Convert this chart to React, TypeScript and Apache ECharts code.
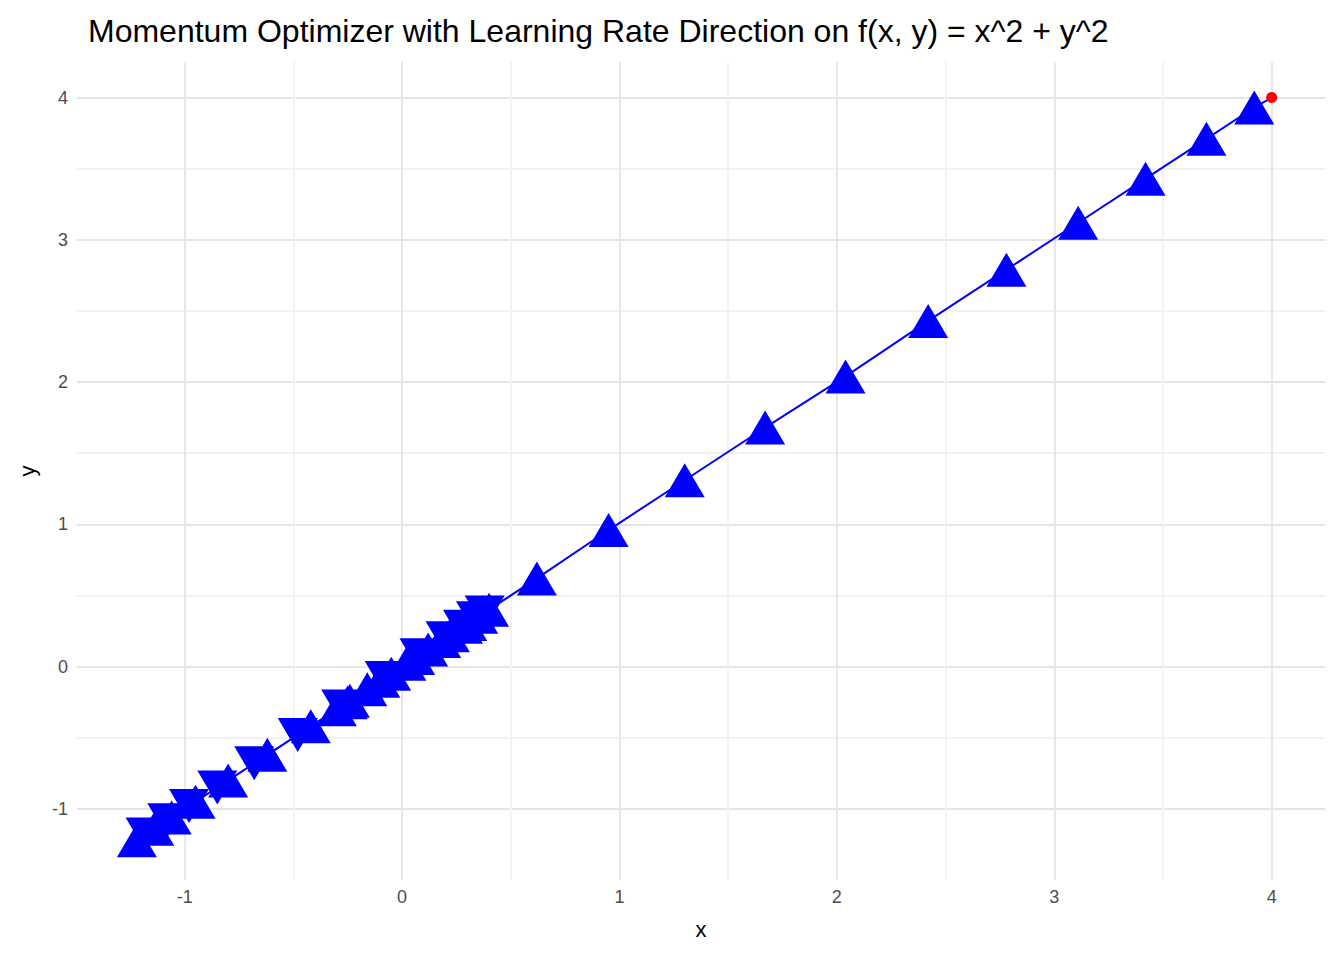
import React, { useEffect, useRef } from 'react';
import * as echarts from 'echarts';

// optimizer path, in step order (x = y along the diagonal)
const pathX = [4, 3.92, 3.70, 3.42, 3.11, 2.78, 2.42, 2.04, 1.67, 1.30, 0.95, 0.62, 0.40, 0.30, 0.22, 0.12, 0.02, -0.10, -0.24, -0.42, -0.62, -0.80, -0.95, -1.06, -1.14, -1.22, -1.18, -1.08, -0.98, -0.85, -0.68, -0.48, -0.28, -0.08, 0.08, 0.20, 0.28, 0.34, 0.38, 0.35, 0.28, 0.18, 0.06, -0.05, -0.16, -0.25, -0.30];
const pathY = [4, 3.93, 3.71, 3.43, 3.12, 2.79, 2.43, 2.04, 1.68, 1.31, 0.96, 0.62, 0.40, 0.30, 0.22, 0.12, 0.02, -0.10, -0.24, -0.42, -0.62, -0.80, -0.95, -1.06, -1.14, -1.22, -1.18, -1.08, -0.98, -0.85, -0.68, -0.48, -0.28, -0.08, 0.08, 0.20, 0.28, 0.34, 0.38, 0.35, 0.28, 0.18, 0.06, -0.05, -0.16, -0.25, -0.30];
const startPoint = [4, 4];
const tickLabels = ['-1', '0', '1', '2', '3', '4'];

const App = () => {
  const chartRef = useRef<HTMLDivElement>(null);

  useEffect(() => {
    document.body.style.margin = '0';
    if (!chartRef.current) return;
    const chart = echarts.init(chartRef.current, null, { renderer: 'svg' });
    const pts = pathX.map((x, i) => [x, pathY[i]]);
    const markers = pts.slice(1).map((p, i) => {
      const moving = p[0] - pts[i][0];
      return { value: p, symbolRotate: moving <= 0 ? 0 : 180 };
    });
    const axis = (name: string, gap: number) => ({
      type: 'value' as const,
      name,
      nameLocation: 'middle' as const,
      nameGap: gap,
      nameTextStyle: { fontSize: 22, color: '#000', fontFamily: 'Liberation Sans' },
      min: -1.5,
      max: 4.25,
      interval: 0.5,
      axisLine: { show: false },
      axisTick: { show: false },
      axisLabel: {
        fontSize: 18,
        color: '#4d4d4d',
        fontFamily: 'Liberation Sans',
        formatter: (v: number) => (Number.isInteger(v) && tickLabels.includes(String(v)) ? String(v) : ''),
      },
      splitLine: { lineStyle: { color: ['#ffffff', '#e5e5e5', '#f2f2f2', '#e5e5e5', '#f2f2f2', '#e5e5e5', '#f2f2f2', '#e5e5e5', '#f2f2f2', '#e5e5e5', '#f2f2f2', '#e5e5e5'], width: 1.8 } },
    });
    chart.setOption({
      animation: false,
      title: {
        text: 'Momentum Optimizer with Learning Rate Direction on f(x, y) = x^2 + y^2',
        left: 83,
        top: 10,
        textStyle: { fontSize: 32, fontWeight: 'normal', color: '#000', fontFamily: 'Liberation Sans' },
      },
      grid: { left: 76, right: 18, top: 62, bottom: 80 },
      xAxis: axis('x', 38),
      yAxis: { ...axis('y', 38), nameRotate: 90 },
      series: [
        {
          type: 'line',
          data: pts,
          symbol: 'none',
          lineStyle: { color: '#0000ff', width: 2 },
          z: 2,
        },
        {
          type: 'scatter',
          data: markers,
          symbol: 'triangle',
          symbolSize: [40, 34],
          itemStyle: { color: '#0000ff', opacity: 1 },
          z: 3,
        },
        {
          type: 'scatter',
          data: [startPoint],
          symbolSize: 11,
          itemStyle: { color: '#ff0000', opacity: 1 },
          z: 4,
        },
      ],
    });
    return () => chart.dispose();
  }, []);

  return <div ref={chartRef} style={{ width: 1344, height: 960 }} />;
};

export default App;
